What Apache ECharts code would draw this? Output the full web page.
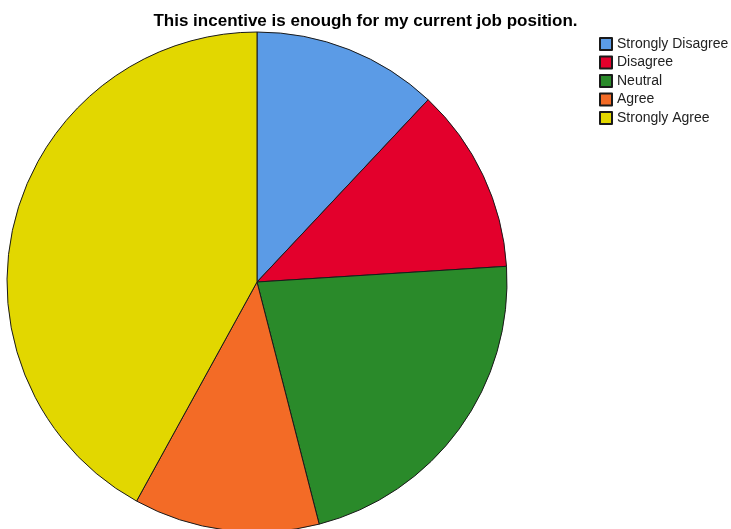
<!DOCTYPE html>
<html>
<head>
<meta charset="utf-8">
<script src="https://cdn.jsdelivr.net/npm/echarts@6/dist/echarts.min.js"></script>
<style>html,body{margin:0;padding:0;background:#fff;}#c{width:731px;height:529px;}</style>
</head>
<body>
<div id="c"></div>
<script>
const titleText = 'This incentive is enough for my current job position.';
const categories = ['Strongly Disagree', 'Disagree', 'Neutral', 'Agree', 'Strongly Agree'];
const counts = [6, 6, 11, 6, 21];
const colors = ['#5b9be6', '#e3002c', '#2a8a2a', '#f36b26', '#e2d700'];

const chart = echarts.init(document.getElementById('c'), null, {renderer: 'canvas'});
chart.setOption({
  animation: false,
  backgroundColor: '#ffffff',
  color: colors,
  title: {
    text: titleText,
    left: 'center',
    top: 8,
    textStyle: {fontFamily: 'Liberation Sans, Arial, sans-serif', fontSize: 17, fontWeight: 'bold', color: '#000'}
  },
  legend: {
    orient: 'vertical',
    left: 594,
    top: 31,
    itemWidth: 12,
    itemHeight: 12,
    itemGap: 2.5,
    icon: 'rect',
    data: categories,
    textStyle: {fontFamily: 'Liberation Sans, Arial, sans-serif', fontSize: 14, lineHeight: 16, color: '#222', padding: [0, 0, 0, 0]}
  },
  series: [{
    type: 'pie',
    center: [257, 282],
    radius: 250,
    startAngle: 90,
    clockwise: true,
    label: {show: false},
    labelLine: {show: false},
    emphasis: {disabled: true},
    itemStyle: {borderColor: '#1a1a1a', borderWidth: 1},
    data: categories.map((n, i) => ({name: n, value: counts[i]}))
  }]
});
</script>
</body>
</html>
